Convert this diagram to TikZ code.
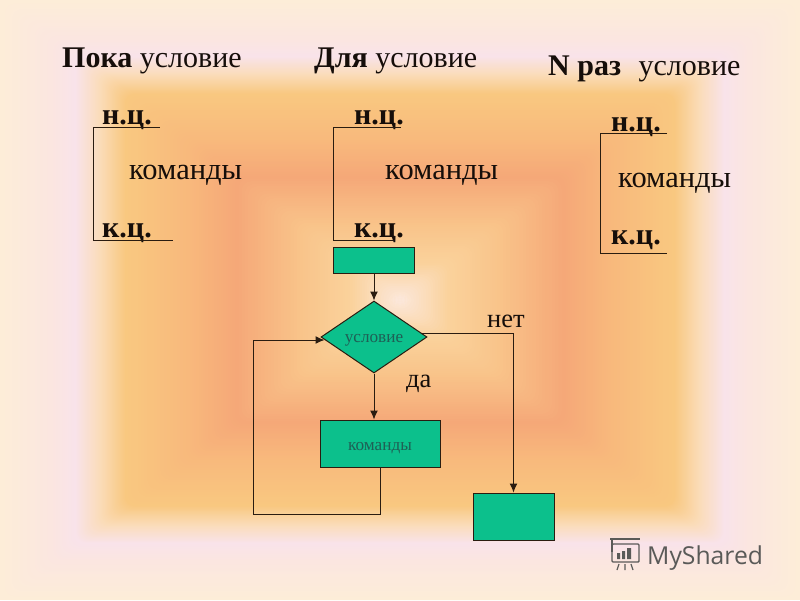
\documentclass[tikz,border=0pt]{standalone}
\usepackage{fontspec}
\setmainfont{Liberation Serif}
\newfontfamily\marksans{Open Sans}
\usetikzlibrary{shapes.geometric,arrows.meta}
\definecolor{paper}{HTML}{FDEDD8}
\definecolor{blockgreen}{HTML}{0CC08C}
\definecolor{linedark}{HTML}{2A1C10}
\definecolor{inktext}{HTML}{160E0A}
\definecolor{boxtext}{HTML}{1F5F55}
\definecolor{markgray}{HTML}{5A5A58}
\tikzstyle{block} = [draw=linedark, fill=blockgreen, line width=1pt, rectangle, inner sep=0pt]
\tikzstyle{choice} = [draw=linedark, fill=blockgreen, line width=1pt, diamond, inner sep=0pt, minimum width=106pt, minimum height=72pt]
\tikzstyle{flow} = [draw=linedark, line width=1pt, -{Latex[length=9pt,width=8pt]}]
\tikzstyle{bracket} = [draw=linedark, line width=1pt]
\tikzstyle{heading} = [anchor=base west, text=inktext, font=\fontsize{30}{32}\selectfont, inner sep=0pt]
\tikzstyle{keyword} = [anchor=base west, text=inktext, font=\fontsize{30}{32}\selectfont\bfseries, inner sep=0pt]
\tikzstyle{body} = [anchor=base west, text=inktext, font=\fontsize{30.5}{32}\selectfont, inner sep=0pt]
\tikzstyle{boxlabel} = [text=boxtext, font=\fontsize{17.2}{20}\selectfont, inner sep=0pt]
\begin{document}
\begin{tikzpicture}[x=1pt,y=-1pt]
                \useasboundingbox (0,0) rectangle (800,600);
                \fill[paper] (0,0) rectangle (800,600);
                \foreach \from/\to/\lo/\hi in {FDEDD8/FBE6E0/0/50, FBE6E0/F9E3EA/50/75, F9E3EA/FADCB8/75/100,
                    FADCB8/F9C880/100/125, F9C880/F8B87C/125/190, F8B87C/F5A878/190/235, F5A878/F9C48A/235/300,
                    F9C48A/FAD29C/300/350, FAD29C/FCE8DC/350/398}{
                    \definecolor{fromcol}{HTML}{\from}
                    \definecolor{tocol}{HTML}{\to}
                    \pgfmathsetmacro{\gap}{\hi-\lo}
                    \foreach \t in {0,0.05,...,0.97}{
                        \pgfmathsetmacro{\m}{\lo+\t*\gap}
                        \pgfmathsetmacro{\pct}{100*\t}
                        \fill[tocol!\pct!fromcol, rounded corners=10pt] (\m,0.75*\m) rectangle (800-\m,600-0.75*\m);
                    }
                }

                \node[heading] (title1) at (62,67) {\textbf{Пока} условие};
                \node[heading] (title2) at (314,67) {\textbf{Для} условие};
                \node[heading] (title3) at (548,75) {\textbf{N раз}\,\, условие};

                \node[keyword] (start1) at (102,124) {н.ц.};
                \node[keyword] (start2) at (354,124) {н.ц.};
                \node[keyword] (start3) at (611,131) {н.ц.};
                \node[keyword] (end1) at (102,237) {к.ц.};
                \node[keyword] (end2) at (354,237) {к.ц.};
                \node[keyword] (end3) at (611,244) {к.ц.};
                \node[body] (body1) at (129,179) {команды};
                \node[body] (body2) at (385,179) {команды};
                \node[body] (body3) at (618,187) {команды};

                \coordinate (b1a) at (160,127);
                \coordinate (b1b) at (93.5,127);
                \coordinate (b1c) at (93.5,240);
                \coordinate (b1d) at (173,240);
                \coordinate (b2a) at (401,127);
                \coordinate (b2b) at (333.5,127);
                \coordinate (b2c) at (333.5,240);
                \coordinate (b2d) at (393,240);
                \coordinate (b3a) at (667,133);
                \coordinate (b3b) at (600.5,133);
                \coordinate (b3c) at (600.5,253);
                \coordinate (b3d) at (667,253);
                \draw[bracket] (b1a) -- (b1b) -- (b1c) -- (b1d);
                \draw[bracket] (b2a) -- (b2b) -- (b2c) -- (b2d);
                \draw[bracket] (b3a) -- (b3b) -- (b3c) -- (b3d);

                \node[block, minimum width=81pt, minimum height=26pt] (init) at (373.5,260) {};
                \node[choice] (cond) at (374,337) {};
                \node[boxlabel] (condtext) at (374,340) {условие};
                \node[block, minimum width=120pt, minimum height=47pt] (cmds) at (380,443.5) {};
                \node[boxlabel] (cmdstext) at (380,448) {команды};
                \node[block, minimum width=81pt, minimum height=47pt] (exit) at (513.5,516.5) {};

                \coordinate (looplow) at (253.5,514);
                \coordinate (loophigh) at (253.5,340);
                \coordinate (nocorner) at (513.5,333);

                \draw[flow] (init.south -| cond.north) -- (cond.north);
                \draw[flow] (cond.south) -- (cond.south |- cmds.north);
                \draw[flow] (cmds.south) |- (looplow) -- (loophigh) -- ([yshift=-3pt,xshift=4pt]cond.west);
                \draw[flow] ([yshift=4pt,xshift=-6pt]cond.east) -- (nocorner) -- (exit.north);

                \node[body, font=\fontsize{26.5}{28}\selectfont] (nolabel) at (487,327) {нет};
                \node[body, font=\fontsize{26.5}{28}\selectfont] (yeslabel) at (406,387) {да};

                \node[anchor=base west, inner sep=0pt, text=markgray, font=\marksans\fontsize{24.7}{26}\selectfont] (mark) at (647,564) {MyShared};
                \draw[markgray, line width=1.4pt, rounded corners=1pt] (612,544) rectangle (639,562);
                \draw[markgray, line width=1.4pt] (610,539) -- (640,539) (612,539) -- (612,552);
                \fill[markgray] (617,553) rectangle (620,559) (622,551) rectangle (625,559) (627,548) rectangle (631,559);
                \draw[markgray, line width=1.2pt] (619,564) -- (617,570) (625,564) -- (625,570) (631,564) -- (633,570);
            \end{tikzpicture}
\end{document}
